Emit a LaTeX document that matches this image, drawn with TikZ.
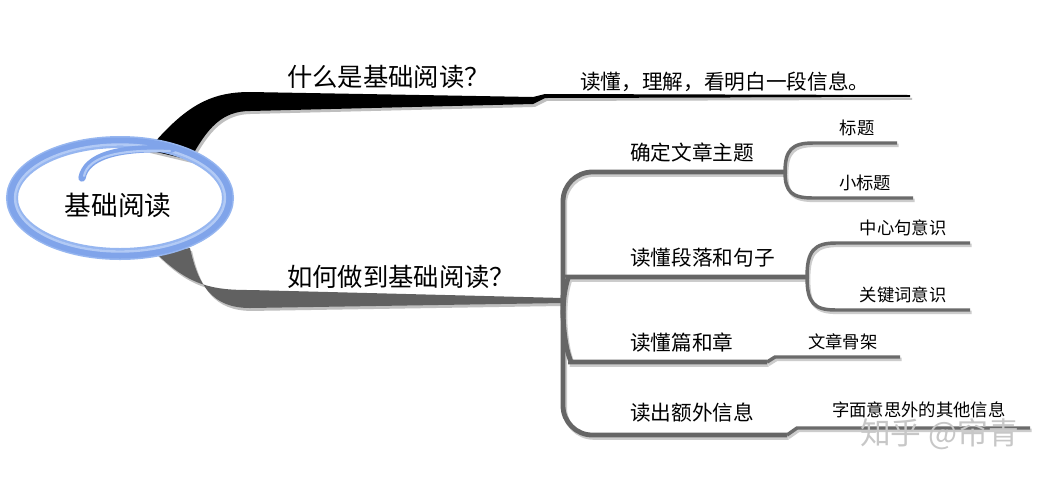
\documentclass[tikz,border=0pt]{standalone}
\usepackage{fontspec}
\setmainfont{Noto Sans CJK SC}
\definecolor{ellA}{RGB}{128,164,234}
\definecolor{ellB}{RGB}{178,202,245}
\definecolor{ellC}{RGB}{150,182,240}
\begin{document}
\begin{tikzpicture}[x=0.75pt,y=-0.75pt,
  trunk/.style={draw=black!60, line width=3.6pt, rounded corners=22pt},
  sub/.style={draw=black!58, line width=2.6pt},
  shd/.style={draw=black!20, transform canvas={shift={(1.2pt,-1.8pt)}}},
  lbl/.style={inner sep=0pt, text=black},
  huge/.style={lbl, font=\fontsize{20pt}{24pt}\selectfont},
  big/.style={lbl, font=\fontsize{19pt}{23pt}\selectfont},
  mid/.style={lbl, font=\fontsize{15.5pt}{19pt}\selectfont},
  small/.style={lbl, font=\fontsize{13pt}{16pt}\selectfont},
  wmark/.style={inner sep=0pt, text=black!22, font=\fontsize{23pt}{27pt}\selectfont}
]
\useasboundingbox (0,0) rectangle (1059,476);
\fill[white] (0,0) rectangle (1059,476);

% main bands (shadow, then band)
\fill[black!25, transform canvas={shift={(1.5pt,-2.2pt)}}]
  (148,150) .. controls (185,106) and (210,92) .. (250,92) -- (533,97) -- (545,94) -- (910,95)
  -- (910,97) -- (545,98) -- (533,104) -- (250,111) .. controls (222,111) and (207,128) .. (190,160) -- cycle;
\fill[black]
  (148,150) .. controls (185,106) and (210,92) .. (250,92) -- (533,97) -- (545,94) -- (910,95)
  -- (910,97) -- (545,98) -- (533,104) -- (250,111) .. controls (222,111) and (207,128) .. (190,160) -- cycle;
\fill[black!25, transform canvas={shift={(1.5pt,-2.2pt)}}]
  (156,253) .. controls (190,287) and (215,290) .. (250,290) -- (563,298) -- (563,303)
  -- (250,308) .. controls (212,308) and (198,285) .. (190,248) -- cycle;
\fill[black!62]
  (156,253) .. controls (190,287) and (215,290) .. (250,290) -- (563,298) -- (563,303)
  -- (250,308) .. controls (212,308) and (198,285) .. (190,248) -- cycle;

% junction coordinates
\coordinate (K1) at (785,172);
\coordinate (K2) at (807,277);
\coordinate (K3) at (767,362);
\coordinate (K4) at (787,435);
\coordinate (E3) at (900,357);
\coordinate (E4) at (1030,428);

\foreach \st in {shd,{}} {
  \draw[trunk,\st] (563,305) -- (563,172) -- (K1);
  \draw[trunk,\st] (563,295) -- (563,435) -- (K4);
  \draw[trunk,\st] (563,318) .. controls (563,284) and (570,277) .. (597,277) -- (K2);
  \draw[trunk,\st] (563,305) .. controls (563,350) and (572,362) .. (600,362) -- (K3);
  \draw[sub,\st] (K3) -- (775,357) -- (E3);
  \draw[sub,\st] (K4) -- (797,428) -- (E4);
  \draw[sub,\st] (K1) .. controls (785,150) and (792,143) .. (813,143) -- (897,143);
  \draw[sub,\st] (K1) .. controls (785,192) and (792,198) .. (813,198) -- (913,198);
  \draw[sub,\st] (K2) .. controls (807,251) and (814,243) .. (836,243) -- (970,243);
  \draw[sub,\st] (K2) .. controls (807,303) and (814,310) .. (836,310) -- (970,310);
}

% central ellipse (brush look)
\draw[line width=9pt, draw=ellC] (120,198) ellipse [x radius=108, y radius=56];
\draw[line width=6pt, draw=ellA] (120,198) ellipse [x radius=108.5, y radius=56.5];
\draw[line width=1.8pt, draw=ellB] (120,198) ellipse [x radius=105, y radius=53.5];
\draw[line width=5.5pt, draw=ellA, line cap=round]
  (82,178) .. controls (86,156) and (118,147) .. (172,149);
\draw[line width=1.6pt, draw=ellB, line cap=round]
  (84,176) .. controls (88,157) and (118,149) .. (170,151);

% texts
\node[huge] (n0) at (118,205) {基础阅读};
\node[big, anchor=west] (q1) at (287,77) {什么是基础阅读？};
\node[mid, anchor=west] (a1) at (580,82) {读懂，理解，看明白一段信息。};
\node[big, anchor=west] (q2) at (287,277) {如何做到基础阅读？};
\node[mid, anchor=west] (b1) at (630,153) {确定文章主题};
\node[mid, anchor=west] (b2) at (630,258) {读懂段落和句子};
\node[mid, anchor=west] (b3) at (630,343) {读懂篇和章};
\node[mid, anchor=west] (b4) at (630,413) {读出额外信息};
\node[small] (c11) at (857,128) {标题};
\node[small] (c12) at (865,183) {小标题};
\node[small] (c21) at (903,228) {中心句意识};
\node[small] (c22) at (903,295) {关键词意识};
\node[small, anchor=west] (c31) at (808,342) {文章骨架};
\node[small, anchor=west] (c41) at (832,410) {字面意思外的其他信息};
\node[wmark, anchor=west] (wm) at (860,434) {知乎 @帘青};
\end{tikzpicture}
\end{document}
